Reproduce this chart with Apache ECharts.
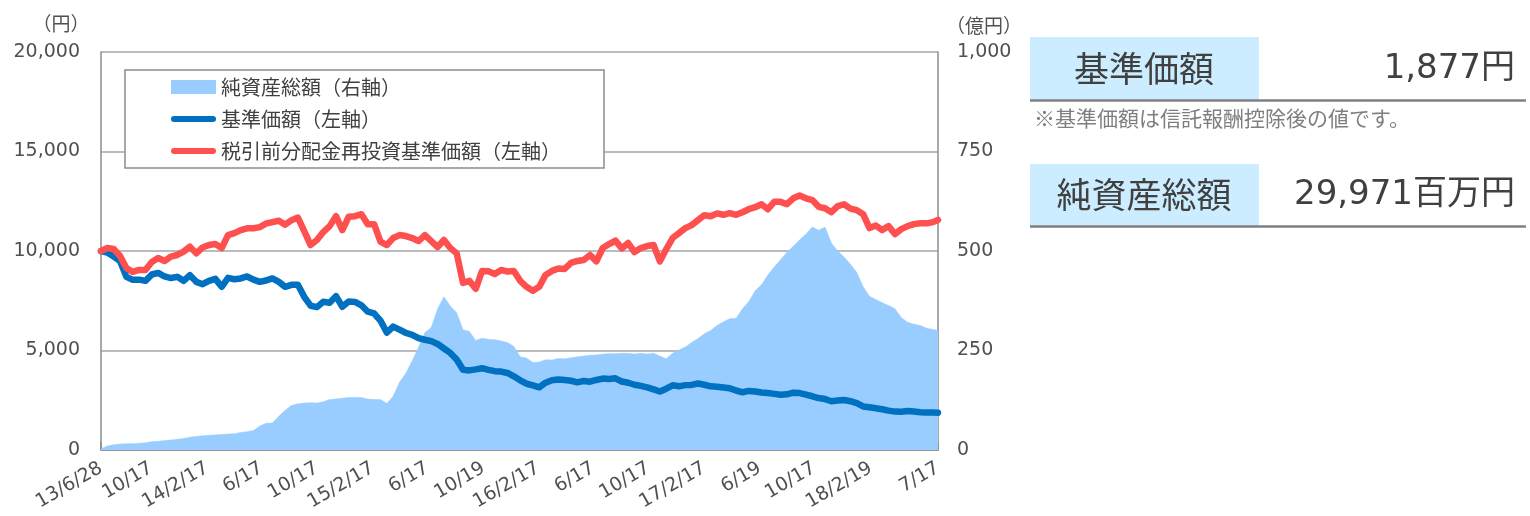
<!DOCTYPE html>
<html><head><meta charset="utf-8">
<script src="https://cdn.jsdelivr.net/npm/echarts@6/dist/echarts.min.js"></script>
<style>html,body{margin:0;padding:0;background:#fff}#c{width:1530px;height:516px}</style>
</head><body><div id="c"></div>
<script>
// ---- data ----
const startDate = '2013-06-28';
const endDate = '2018-07-17';
const stepDays = 14; // sampling grid of the series (one value every 14 days, last value on endDate)

const tickDates = ['2013-06-28','2013-10-17','2014-02-17','2014-06-17','2014-10-17','2015-02-17','2015-06-17','2015-10-19',
  '2016-02-17','2016-06-17','2016-10-17','2017-02-17','2017-06-19','2017-10-17','2018-02-19','2018-07-17'];
const tickLabels = ['13/6/28','10/17','14/2/17','6/17','10/17','15/2/17','6/17','10/19',
  '16/2/17','6/17','10/17','17/2/17','6/19','10/17','18/2/19','7/17'];

// 基準価額（円）
const nav = [10000, 9920, 9720, 9500, 8700, 8550, 8560, 8500, 8820, 8900,
 8720, 8640, 8700, 8500, 8780, 8450, 8330, 8500, 8600, 8200,
 8650, 8580, 8620, 8720, 8560, 8450, 8520, 8620, 8450, 8200,
 8300, 8300, 7700, 7250, 7180, 7450, 7400, 7730, 7200, 7460,
 7440, 7270, 6950, 6860, 6500, 5900, 6200, 6050, 5880, 5790,
 5620, 5540, 5470, 5330, 5100, 4880, 4550, 4030, 4000, 4050,
 4110, 4030, 3960, 3940, 3870, 3700, 3500, 3330, 3250, 3150,
 3380, 3510, 3540, 3520, 3480, 3400, 3470, 3430, 3520, 3590,
 3570, 3600, 3440, 3380, 3280, 3220, 3150, 3050, 2940, 3080,
 3250, 3200, 3260, 3270, 3340, 3280, 3200, 3180, 3140, 3100,
 2990, 2900, 2970, 2940, 2890, 2860, 2820, 2780, 2800, 2880,
 2860, 2780, 2700, 2610, 2560, 2450, 2490, 2510, 2450, 2360,
 2190, 2150, 2100, 2050, 1980, 1930, 1920, 1960, 1930, 1900,
 1890, 1890, 1877];

// 税引前分配金再投資基準価額（円）
const navReinvested = [10000, 10150, 10100, 9750, 9150, 8950, 9050, 9050, 9450, 9650,
 9500, 9720, 9800, 9970, 10220, 9880, 10180, 10300, 10350, 10150,
 10800, 10900, 11050, 11140, 11140, 11200, 11380, 11450, 11520, 11320,
 11550, 11680, 11000, 10300, 10550, 10950, 11250, 11750, 11050, 11720,
 11750, 11850, 11350, 11350, 10470, 10300, 10650, 10800, 10750, 10650,
 10500, 10800, 10500, 10200, 10550, 10150, 9880, 8400, 8500, 8100,
 9000, 8980, 8850, 9050, 8970, 9000, 8500, 8200, 8000, 8200,
 8800, 9000, 9120, 9100, 9400, 9500, 9550, 9800, 9480, 10150,
 10350, 10520, 10130, 10400, 9950, 10150, 10250, 10300, 9480, 10100,
 10650, 10900, 11150, 11300, 11550, 11800, 11750, 11890, 11820, 11900,
 11820, 11950, 12100, 12200, 12350, 12100, 12470, 12470, 12350, 12650,
 12790, 12650, 12560, 12220, 12150, 11950, 12250, 12350, 12130, 12050,
 11850, 11150, 11280, 11050, 11250, 10850, 11100, 11250, 11350, 11390,
 11390, 11450, 11560];

// 純資産総額（億円）
const netAssets = [3, 10, 13, 15, 16, 16, 17, 18, 21, 22,
 24, 25, 27, 29, 32, 34, 36, 37, 38, 39,
 40, 41, 44, 46, 49, 60, 67, 68, 85, 100,
 112, 116, 118, 119, 118, 121, 127, 128, 130, 132,
 132, 132, 128, 127, 127, 117, 135, 170, 193, 224,
 258, 295, 308, 355, 385, 362, 345, 302, 298, 275,
 281, 278, 277, 274, 270, 260, 234, 231, 220, 221,
 227, 226, 230, 229, 232, 234, 236, 238, 239, 241,
 242, 242, 243, 243, 241, 243, 241, 243, 236, 229,
 243, 251, 259, 270, 280, 292, 300, 313, 322, 330,
 331, 355, 373, 400, 415, 440, 460, 478, 497, 512,
 528, 543, 560, 552, 560, 520, 500, 485, 467, 446,
 410, 386, 378, 370, 363, 355, 333, 321, 316, 313,
 306, 303, 300];

const seriesNames = ['純資産総額（右軸）', '基準価額（左軸）', '税引前分配金再投資基準価額（左軸）'];
const leftUnit = '（円）';
const rightUnit = '（億円）';
const panelNavLabel = '基準価額';
const panelNavValue = '1,877円';
const panelNote = '※基準価額は信託報酬控除後の値です。';
const panelAumLabel = '純資産総額';
const panelAumValue = '29,971百万円';

// ---- build ----
const DAY = 86400000;
function toTs(s) { const p = s.split('-').map(Number); return Date.UTC(p[0], p[1] - 1, p[2]); }
const t0 = toTs(startDate);
const dayOf = s => Math.round((toTs(s) - t0) / DAY);
const lastDay = dayOf(endDate);
const sampleDays = [];
for (let i = 0; i < nav.length - 1; i++) sampleDays.push(stepDays * i);
sampleDays.push(lastDay);
const pairs = arr => arr.map((v, i) => [sampleDays[i], v]);
const tickDays = tickDates.map(dayOf);
const labelMap = new Map(tickDays.map((d, i) => [d, tickLabels[i]]));

const NUM_FONT = 'DejaVu Sans';
const JP_FONT = 'Noto Sans CJK JP';
const MIX_FONT = 'DejaVu Sans, Noto Sans CJK JP';
const linePath = 'path://M3,0 L42,0 A3,3 0 0 1 42,6 L3,6 A3,3 0 0 1 3,0 Z';
const AXIS_TEXT = '#505050';

const chart = echarts.init(document.getElementById('c'), null, { renderer: 'canvas' });
chart.setOption({
  animation: false,
  backgroundColor: '#fff',
  grid: { left: 101, right: 592, top: 52, bottom: 66, containLabel: false },
  legend: {
    orient: 'vertical', left: 125, top: 70,
    padding: [7, 43, 7, 46], itemGap: 12, itemWidth: 45, itemHeight: 14, itemTextGap: 4,
    backgroundColor: '#fff', borderColor: '#8c8c8c', borderWidth: 1.5,
    itemStyle: { borderWidth: 0 },
    textStyle: { fontSize: 20, color: '#404040', fontFamily: JP_FONT, lineHeight: 20 },
    data: [
      { name: seriesNames[0], icon: 'rect' },
      { name: seriesNames[1], icon: linePath },
      { name: seriesNames[2], icon: linePath }
    ]
  },
  xAxis: {
    type: 'value', min: 0, max: lastDay,
    axisLine: { lineStyle: { color: '#8c8c8c', width: 1.5 } },
    axisTick: { show: true, inside: true, length: 8, customValues: tickDays, lineStyle: { color: '#8c8c8c', width: 1.5 } },
    axisLabel: {
      customValues: tickDays, rotate: 30, margin: 17, fontSize: 19, color: AXIS_TEXT, fontFamily: NUM_FONT,
      hideOverlap: false, showMinLabel: true, showMaxLabel: true,
      formatter: v => labelMap.has(v) ? labelMap.get(v) : ''
    },
    splitLine: { show: false }
  },
  yAxis: [
    {
      type: 'value', min: 0, max: 20000, interval: 5000, position: 'left',
      axisLine: { show: true, lineStyle: { color: '#8c8c8c', width: 1.5 } },
      axisTick: { show: false },
      axisLabel: { margin: 21, fontSize: 19, color: AXIS_TEXT, fontFamily: NUM_FONT,
        formatter: v => v.toLocaleString('en-US') },
      splitLine: { show: true, lineStyle: { color: '#a6a6a6', width: 1.5 } }
    },
    {
      type: 'value', min: 0, max: 1000, interval: 250, position: 'right',
      axisLine: { show: true, lineStyle: { color: '#8c8c8c', width: 1.5 } },
      axisTick: { show: false },
      axisLabel: { margin: 19, fontSize: 19, color: AXIS_TEXT, fontFamily: NUM_FONT,
        formatter: v => v.toLocaleString('en-US') },
      splitLine: { show: false }
    }
  ],
  series: [
    {
      name: seriesNames[0], type: 'line', yAxisIndex: 1, data: pairs(netAssets),
      symbol: 'none', showSymbol: false, silent: true,
      itemStyle: { color: '#99ccff' },
      lineStyle: { color: '#99ccff', width: 0.5 },
      areaStyle: { color: '#99ccff', opacity: 1 }
    },
    {
      name: seriesNames[1], type: 'line', yAxisIndex: 0, data: pairs(nav),
      symbol: 'none', showSymbol: false, silent: true,
      itemStyle: { color: '#0070c0' },
      lineStyle: { color: '#0070c0', width: 6.5, join: 'round', cap: 'round' }
    },
    {
      name: seriesNames[2], type: 'line', yAxisIndex: 0, data: pairs(navReinvested),
      symbol: 'none', showSymbol: false, silent: true,
      itemStyle: { color: '#ff5050' },
      lineStyle: { color: '#ff5050', width: 6.5, join: 'round', cap: 'round' }
    }
  ],
  graphic: [
    { type: 'text', x: 61, y: 24, style: { text: leftUnit, fontSize: 19, fontFamily: JP_FONT, fill: AXIS_TEXT, align: 'center', verticalAlign: 'middle' } },
    { type: 'text', x: 984, y: 26, style: { text: rightUnit, fontSize: 19, fontFamily: JP_FONT, fill: AXIS_TEXT, align: 'center', verticalAlign: 'middle' } },
    { type: 'rect', shape: { x: 1030, y: 37, width: 229, height: 63 }, style: { fill: '#ccecff' } },
    { type: 'text', x: 1144, y: 69, style: { text: panelNavLabel, fontSize: 35, fontFamily: JP_FONT, fill: '#404040', align: 'center', verticalAlign: 'middle' } },
    { type: 'text', x: 1515, y: 69, style: { text: panelNavValue, fontSize: 34, fontFamily: MIX_FONT, fill: '#404040', align: 'right', verticalAlign: 'middle' } },
    { type: 'line', shape: { x1: 1030, y1: 100.5, x2: 1526, y2: 100.5 }, style: { stroke: '#808080', lineWidth: 2.5 } },
    { type: 'text', x: 1034, y: 118, style: { text: panelNote, fontSize: 21, fontFamily: JP_FONT, fill: '#7f7f7f', align: 'left', verticalAlign: 'middle' } },
    { type: 'rect', shape: { x: 1030, y: 164, width: 229, height: 62 }, style: { fill: '#ccecff' } },
    { type: 'text', x: 1144, y: 195, style: { text: panelAumLabel, fontSize: 35, fontFamily: JP_FONT, fill: '#404040', align: 'center', verticalAlign: 'middle' } },
    { type: 'text', x: 1515, y: 195, style: { text: panelAumValue, fontSize: 34, fontFamily: MIX_FONT, fill: '#404040', align: 'right', verticalAlign: 'middle' } },
    { type: 'line', shape: { x1: 1030, y1: 226.5, x2: 1526, y2: 226.5 }, style: { stroke: '#808080', lineWidth: 2.5 } }
  ]
});
</script>
</body></html>
